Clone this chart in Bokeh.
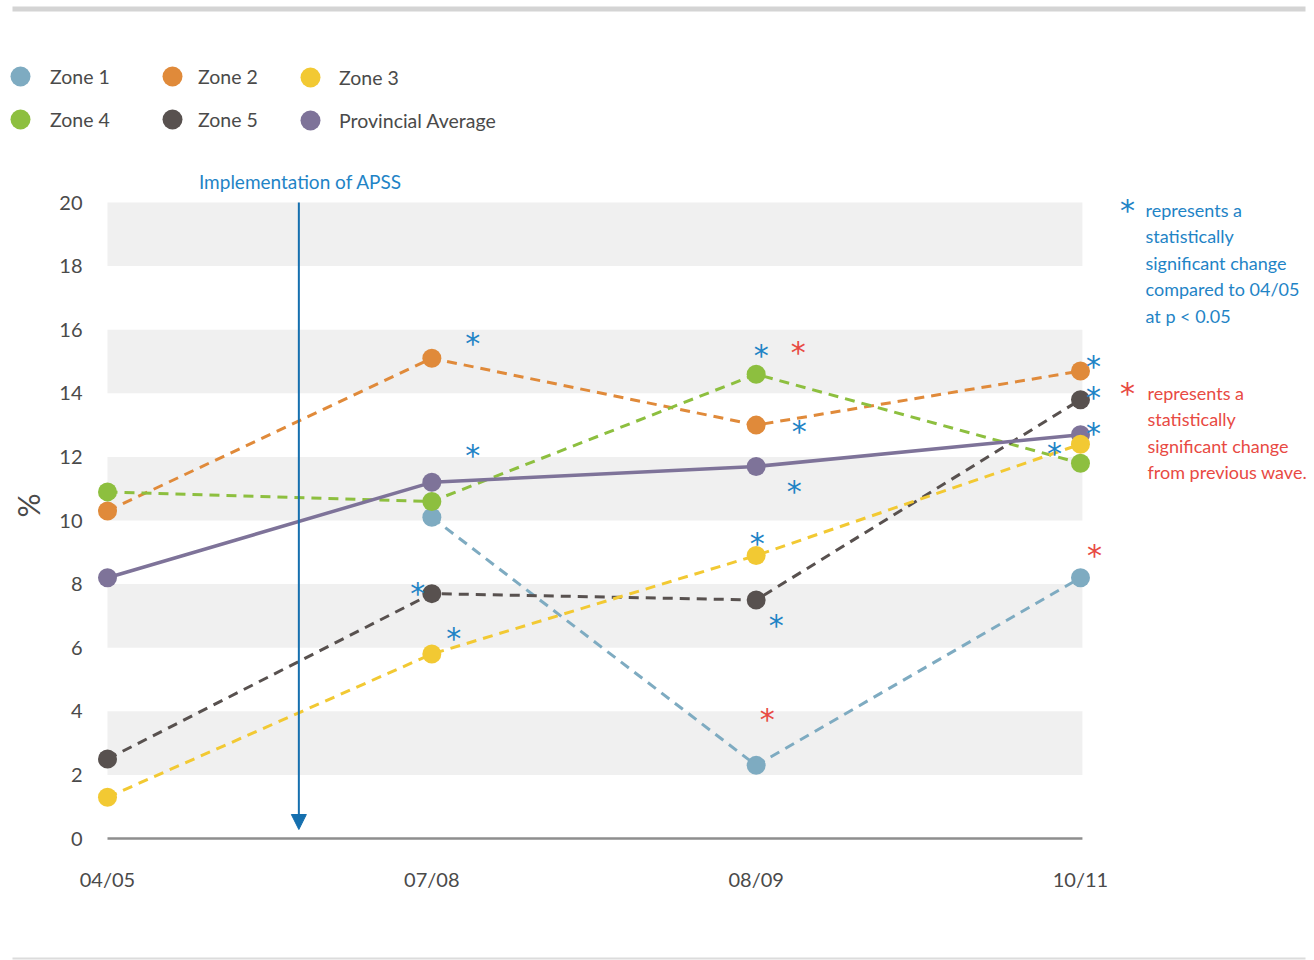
import math

from bokeh.core.properties import value
from bokeh.embed import file_html
from bokeh.models import (Arrow, FixedTicker, Legend, LegendItem, NormalHead,
                          Range1d)
from bokeh.plotting import figure
from bokeh.resources import INLINE

NaN = float("nan")

# ---- data -----------------------------------------------------------------
waves = ["04/05", "07/08", "08/09", "10/11"]
zone_1 = [NaN, 10.1, 2.3, 8.2]
zone_2 = [10.3, 15.1, 13.0, 14.7]
zone_3 = [1.3, 5.8, 8.9, 12.4]
zone_4 = [10.9, 10.6, 14.6, 11.8]
zone_5 = [2.5, 7.7, 7.5, 13.8]
provincial_average = [8.2, 11.2, 11.7, 12.7]
y_ticks = [0, 2, 4, 6, 8, 10, 12, 14, 16, 18, 20]
shaded_bands = [(2, 4), (6, 8), (10, 12), (14, 16), (18, 20)]

# APSS came in between the first and second survey waves
apss_wave_position = 0.59

# significant vs. 04/05 (blue) and vs. previous wave (red): (series, wave index)
sig_vs_baseline = [("Zone 2", 1), ("Provincial Average", 1), ("Zone 5", 1),
                   ("Zone 3", 1), ("Zone 4", 2), ("Zone 2", 2),
                   ("Provincial Average", 2), ("Zone 3", 2), ("Zone 5", 2),
                   ("Zone 2", 3), ("Zone 5", 3), ("Provincial Average", 3),
                   ("Zone 3", 3)]
sig_vs_previous = [("Zone 4", 2), ("Zone 1", 2), ("Zone 1", 3)]

note_baseline = ["represents a", "statistically", "significant change",
                 "compared to 04/05", "at p < 0.05"]
note_previous = ["represents a", "statistically", "significant change",
                 "from previous wave."]

# ---- styling ----------------------------------------------------------------
FONT = "Lato"
STAR_FONT = "DejaVu Sans"
TEXT_COLOR = "#4a4a4a"
BLUE = "#1f84c6"
RED = "#e84a43"
ARROW_BLUE = "#156fae"
BAND = "#f0f0f0"

series = [
    ("Zone 1", zone_1, "#7eabc1", "10 7", 3),
    ("Zone 2", zone_2, "#e08a3a", "10 7", 3),
    ("Zone 4", zone_4, "#8dbf3f", "10 7", 3),
    ("Zone 5", zone_5, "#58514f", "10 7", 3),
    ("Provincial Average", provincial_average, "#7e7399", "solid", 3.5),
    ("Zone 3", zone_3, "#f2c933", "10 7", 3),
]
values_by_name = {name: vals for name, vals, *_ in series}

# pixel offsets of the star markers from their point (x right, y down)
baseline_offsets = [(41, -20), (41, -32), (-14, -5), (22, -21), (5, -24),
                    (43, 1), (38, 20), (1, -17), (20, 20), (13, -10),
                    (13, -7), (13, -6), (-26, 4)]
previous_offsets = [(42, -27), (11, -51), (14, -27)]
STAR_SIZE = "30px"
STAR_LIFT = 5   # the glyph sits above the text middle

# legend entries: name, swatch centre (canvas px), gap to label
legend_layout = [("Zone 1", (20, 76), 5), ("Zone 2", (172, 76), 1),
                 ("Zone 3", (310, 77), 4), ("Zone 4", (20, 119), 5),
                 ("Zone 5", (172, 119), 1), ("Provincial Average", (310, 120), 4)]

# ---- geometry ---------------------------------------------------------------
W, H = 1314, 960
X0_PX, Y0_PX = 107, 838          # canvas position of (first wave, 0 %)
PX_PER_WAVE, PX_PER_PCT = 324.33, 31.8


def xd(px):
    return (px - X0_PX) / PX_PER_WAVE


def yd(py):
    return (Y0_PX - py) / PX_PER_PCT


p = figure(width=W, height=H, output_backend="svg", toolbar_location=None,
           x_range=Range1d(xd(0), xd(W)), y_range=Range1d(yd(H), yd(0)),
           min_border=0)
p.outline_line_color = None
p.grid.visible = False
p.background_fill_color = "white"
p.border_fill_color = "white"

last = len(waves) - 1

# page rules at top and bottom
p.segment(x0=xd(12), x1=xd(1305), y0=yd(8.5), y1=yd(8.5), line_color="#d4d4d4", line_width=5)
p.segment(x0=xd(12), x1=xd(1305), y0=yd(958), y1=yd(958), line_color="#dcdcdc", line_width=2)

# shaded horizontal bands and the baseline
p.quad(left=0, right=last + 0.006,
       bottom=[b for b, _ in shaded_bands], top=[t for _, t in shaded_bands],
       fill_color=BAND, line_color=None)
p.segment(x0=0, x1=last + 0.006, y0=0, y1=0, line_color="#8e8e8e", line_width=2.5)

# axes, pinned inside the full-canvas frame
p.yaxis.ticker = FixedTicker(ticks=y_ticks)
p.xaxis.ticker = FixedTicker(ticks=list(range(len(waves))))
p.xaxis.major_label_overrides = {i: w for i, w in enumerate(waves)}
p.yaxis.fixed_location = xd(95)
p.xaxis.fixed_location = yd(850)
for ax in (p.xaxis, p.yaxis):
    ax.axis_line_color = None
    ax.major_tick_line_color = None
    ax.minor_tick_line_color = None
    ax.major_label_text_font = FONT
    ax.major_label_text_font_size = "20px"
    ax.major_label_text_color = TEXT_COLOR
p.yaxis.major_label_standoff = 7
p.xaxis.major_label_standoff = 10

# "%" axis title
p.text(x=[xd(27)], y=[yd(505)], text=["%"], angle=math.pi / 2,
       text_font=value(FONT), text_font_size="30px", text_color=TEXT_COLOR,
       text_align="center", text_baseline="middle")

# series lines then markers
xs = list(range(len(waves)))
for name, vals, color, dash, lw in series:
    p.line(xs, vals, line_color=color, line_width=lw, line_dash=dash)
markers = {}
for name, vals, color, dash, lw in series:
    markers[name] = p.scatter(xs, vals, size=19, fill_color=color, line_color=None)


# significance stars
def star_layer(marks, offsets, color):
    p.text(x=[i for _, i in marks], y=[values_by_name[n][i] for n, i in marks],
           text=["*"] * len(marks),
           x_offset=[dx for dx, _ in offsets],
           y_offset=[dy + STAR_LIFT for _, dy in offsets],
           text_font=value(STAR_FONT), text_font_size=STAR_SIZE,
           text_color=color, text_align="center", text_baseline="middle")


star_layer(sig_vs_baseline, baseline_offsets, BLUE)
star_layer(sig_vs_previous, previous_offsets, RED)

# APSS marker
p.add_layout(Arrow(end=NormalHead(size=15, fill_color=ARROW_BLUE, line_color=ARROW_BLUE),
                   x_start=apss_wave_position, y_start=20,
                   x_end=apss_wave_position, y_end=yd(829),
                   line_color=ARROW_BLUE, line_width=2))
p.text(x=[xd(300)], y=[yd(181)], text=["Implementation of APSS"],
       text_font=value(FONT), text_font_size="19px", text_color=BLUE,
       text_align="center", text_baseline="middle")


# notes on the right
def note(lines, star_xy, text_x, first_y, color):
    p.text(x=[xd(star_xy[0])], y=[yd(star_xy[1])], text=["*"], y_offset=STAR_LIFT,
           text_font=value(STAR_FONT), text_font_size=STAR_SIZE,
           text_color=color, text_align="center", text_baseline="middle")
    p.text(x=[xd(text_x)] * len(lines), y=[yd(first_y)] * len(lines), text=lines,
           y_offset=[i * 26.6 for i in range(len(lines))],
           text_font=value(FONT), text_font_size="18px", text_color=color,
           text_align="left", text_baseline="middle")


note(note_baseline, (1127, 205), 1145, 209, BLUE)
note(note_previous, (1127, 388), 1147, 392, RED)

# legend: one single-entry box per swatch
SWATCH_BOX = 50     # the legend draws the marker at 0.4 of this box
for name, (cx, cy), gap in legend_layout:
    leg = Legend(items=[LegendItem(label=name, renderers=[markers[name]])],
                 location=(cx - SWATCH_BOX // 2, H - cy - SWATCH_BOX // 2),
                 glyph_width=SWATCH_BOX, glyph_height=SWATCH_BOX,
                 label_height=SWATCH_BOX, spacing=0,
                 padding=0, margin=0, label_standoff=gap,
                 border_line_color=None, background_fill_alpha=0,
                 label_text_font=FONT, label_text_font_size="19.5px",
                 label_text_color=TEXT_COLOR)
    p.add_layout(leg)

open("out.html", "w").write(file_html(p, INLINE))
